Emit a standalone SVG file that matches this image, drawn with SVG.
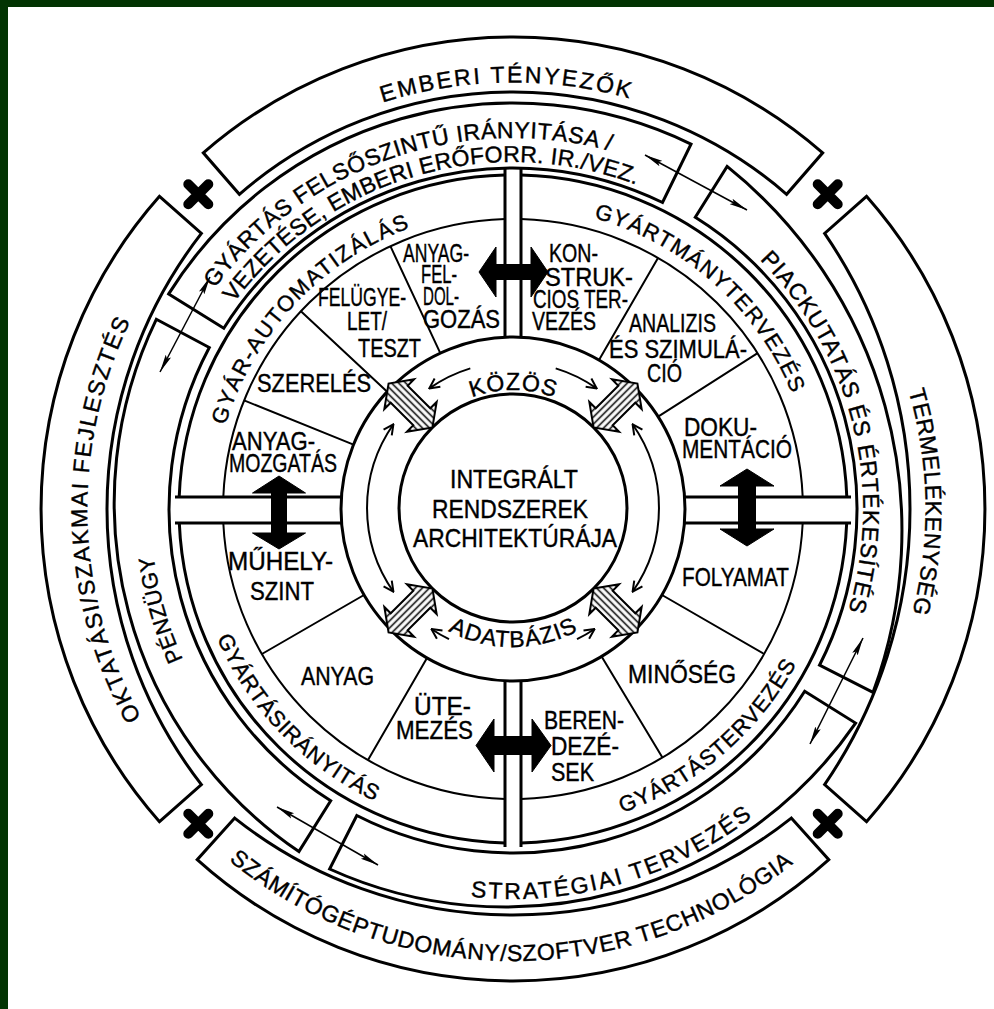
<svg xmlns="http://www.w3.org/2000/svg" width="994" height="1009" viewBox="0 0 994 1009">
<style>
.ln{fill:none;stroke:#000;stroke-width:3}
.th{fill:none;stroke:#000;stroke-width:2}
.cn{fill:none;stroke:#000;stroke-width:1.5}
.t{font-family:"Liberation Sans",Arial,sans-serif;font-size:25px;fill:#000;stroke:#000;stroke-width:0.4}
.ta{font-family:"Liberation Sans",Arial,sans-serif;font-size:22px;fill:#000;stroke:#000;stroke-width:0.4}
.tb{font-family:"Liberation Sans",Arial,sans-serif;font-size:23px;fill:#000;stroke:#000;stroke-width:0.4}
.to{font-family:"Liberation Sans",Arial,sans-serif;font-size:23px;fill:#000;stroke:#000;stroke-width:0.4}
.x{fill:none;stroke:#000;stroke-width:10;stroke-linecap:round}
.blk{fill:#000;stroke:#000;stroke-width:1}
.hat{fill:url(#hatch);stroke:#000;stroke-width:2}
</style>
<defs>
<marker id="ah" markerUnits="userSpaceOnUse" viewBox="0 0 18 8" refX="18" refY="4" markerWidth="18" markerHeight="8" orient="auto-start-reverse"><path d="M0,1 L18,4 L0,7 L3,4 Z" fill="#000"/></marker>
<marker id="rh" markerUnits="userSpaceOnUse" viewBox="0 0 12 12" refX="11" refY="6" markerWidth="12" markerHeight="12" orient="auto-start-reverse"><path d="M1,1 L11,6 L1,11" fill="none" stroke="#000" stroke-width="2"/></marker>
<pattern id="hatch" patternUnits="userSpaceOnUse" width="6" height="5"><rect width="6" height="5" fill="#fff"/><line x1="0" y1="2.5" x2="6" y2="2.5" stroke="#000" stroke-width="1.6"/></pattern>
<path id="p_emb" d="M81.1,516.5 A432,432 0 0 1 944.9,501.5"/>
<path id="p_term" d="M505.7,91.1 A418,418 0 0 1 520.3,926.9"/>
<path id="p_szam" d="M61,506.6 A452,452 0 0 0 965,511.4"/>
<path id="p_okt" d="M525,939.8 A431,431 0 0 1 501,78.2"/>
<path id="p_gy1" d="M162.6,631 A371,371 0 0 1 863.4,387"/>
<path id="p_gy2" d="M180.1,607 A347,347 0 0 1 845.9,411"/>
<path id="p_pia" d="M426.4,166.8 A353,353 0 0 1 599.6,851.2"/>
<path id="p_str" d="M137.7,615.2 A390,390 0 0 0 888.3,402.8"/>
<path id="p_pen" d="M613.9,860.8 A366,366 0 0 1 412.1,157.2"/>
<path id="p_gya" d="M305.7,731.3 A304,304 0 0 1 720.3,286.7"/>
<path id="p_gym" d="M286.8,308.9 A302,302 0 0 1 739.2,709.1"/>
<path id="p_gyt" d="M267.4,718.8 A323,323 0 0 0 758.6,299.2"/>
<path id="p_gyi" d="M288.2,277 A323,323 0 0 0 737.8,741"/>
<path id="p_koz" d="M395,508 A118,118 0 0 1 631,508"/>
<path id="p_ada" d="M374,508 A139,139 0 0 0 652,508"/>
<path id="harrow" d="M-31,0 L-16,-21 L-16,-12 L16,-12 L16,-21 L31,0 L16,21 L16,12 L-16,12 L-16,21 Z"/>
</defs>
<rect width="994" height="1009" fill="#fff"/>
<rect x="0" y="0" width="994" height="7" fill="#023402"/>
<rect x="0" y="0" width="8" height="1009" fill="#023402"/>

<!-- outer ring -->
<g id="emberi">
<path class="ln" d="M203.3,152.8 A472,472 0 0 1 822.7,152.8 L786.6,194.3 A417,417 0 0 0 239.4,194.3 Z"/>
<text class="to"><textPath href="#p_emb" startOffset="50%" text-anchor="middle" textLength="250" lengthAdjust="spacing">EMBERI TÉNYEZŐK</textPath></text>
</g>
<g id="termelekenyseg">
<path class="ln" d="M866.5,196.3 A472,472 0 0 1 866.5,821.7 L824.6,784.6 A487.4,487.4 0 0 0 824.6,233.4 Z"/>
<text class="to"><textPath href="#p_term" startOffset="50%" text-anchor="middle" textLength="225" lengthAdjust="spacing">TERMELÉKENYSÉG</textPath></text>
</g>
<g id="szamitogep">
<path class="ln" d="M828.8,859.7 A472,472 0 0 1 197.2,859.7 L234.7,818.1 A448.1,448.1 0 0 0 791.3,818.1 Z"/>
<text class="to"><textPath href="#p_szam" startOffset="50%" text-anchor="middle" textLength="610" lengthAdjust="spacing">SZÁMÍTÓGÉPTUDOMÁNY/SZOFTVER TECHNOLÓGIA</textPath></text>
</g>
<g id="oktatasi">
<path class="ln" d="M159.5,821.7 A472,472 0 0 1 159.5,196.3 L201.4,233.4 A449.5,449.5 0 0 0 201.4,784.6 Z"/>
<text class="to"><textPath href="#p_okt" startOffset="50%" text-anchor="middle" textLength="412" lengthAdjust="spacing">OKTATÁSI/SZAKMAI FEJLESZTÉS</textPath></text>
</g>

<!-- middle ring -->
<g id="gyartas-felso">
<path class="ln" d="M168.7,293.9 A406,406 0 0 1 691,144.1 L662.5,202.5 A341,341 0 0 0 223.8,328.3 Z"/>
<text class="tb"><textPath href="#p_gy1" startOffset="50%" text-anchor="middle" textLength="445" lengthAdjust="spacing">GYÁRTÁS FELSŐSZINTŰ IRÁNYITÁSA /</textPath></text>
<text class="tb"><textPath href="#p_gy2" startOffset="50%" text-anchor="middle" textLength="450" lengthAdjust="spacing">VEZETÉSE, EMBERI ERŐFORR. IR./VEZ.</textPath></text>
</g>
<g id="piackutatas">
<path class="ln" d="M727.1,166.4 A466.7,466.7 0 0 1 873,692.4 L819.5,665.2 A344,344 0 0 0 695.3,217.3 Z"/>
<text class="tb"><textPath href="#p_pia" startOffset="50%" text-anchor="middle" textLength="380" lengthAdjust="spacing">PIACKUTATÁS ÉS ÉRTÉKESÍTÉS</textPath></text>
</g>
<g id="strategiai">
<path class="ln" d="M855.6,723.1 A425.3,425.3 0 0 1 329.6,869 L356.8,815.5 A344,344 0 0 0 804.7,691.3 Z"/>
<text class="tb"><textPath href="#p_str" startOffset="50%" text-anchor="middle" textLength="300" lengthAdjust="spacing">STRATÉGIAI TERVEZÉS</textPath></text>
</g>
<g id="penzugy">
<path class="ln" d="M298.9,851.6 A421.5,421.5 0 0 1 156.3,319.3 L209.3,347.5 A344,344 0 0 0 330.7,800.7 Z"/>
<text class="ta"><textPath href="#p_pen" startOffset="50%" text-anchor="middle" textLength="108" lengthAdjust="spacing">PÉNZÜGY</textPath></text>
</g>

<!-- crosses -->
<g id="crosses">
<path class="x" d="M188.3,184.3 L208.3,204.3 M208.3,184.3 L188.3,204.3"/>
<path class="x" d="M817.7,184.3 L837.7,204.3 M837.7,184.3 L817.7,204.3"/>
<path class="x" d="M188.3,813.7 L208.3,833.7 M208.3,813.7 L188.3,833.7"/>
<path class="x" d="M817.7,813.7 L837.7,833.7 M837.7,813.7 L817.7,833.7"/>
</g>

<!-- quadrants -->
<g id="q-gyar-automatizalas">
<path class="ln" d="M179.2,497 A334,334 0 0 1 505,175.1"/>
<path class="th" d="M223.3,497 A290,290 0 0 1 505,219.1"/>
<path class="th" d="M390.4,246.2 L440.3,353.1 M300.9,311.2 L387.2,391.7 M244.1,400.4 L353.5,444.6"/>
<text class="ta"><textPath href="#p_gya" startOffset="50%" text-anchor="middle" textLength="280" lengthAdjust="spacing">GYÁR-AUTOMATIZÁLÁS</textPath></text>
<text class="t" x="403" y="262" textLength="66" lengthAdjust="spacingAndGlyphs">ANYAG-</text>
<text class="t" x="421" y="283" textLength="36" lengthAdjust="spacingAndGlyphs">FEL-</text>
<text class="t" x="423" y="305" textLength="36" lengthAdjust="spacingAndGlyphs">DOL-</text>
<text class="t" x="423" y="328" textLength="77" lengthAdjust="spacingAndGlyphs">GOZÁS</text>
<text class="t" x="318" y="306" textLength="88" lengthAdjust="spacingAndGlyphs">FELÜGYE-</text>
<text class="t" x="347" y="330" textLength="40" lengthAdjust="spacingAndGlyphs">LET/</text>
<text class="t" x="358" y="357" textLength="63" lengthAdjust="spacingAndGlyphs">TESZT</text>
<text class="t" x="257" y="392" textLength="114" lengthAdjust="spacingAndGlyphs">SZERELÉS</text>
<text class="t" x="232" y="450" textLength="83" lengthAdjust="spacingAndGlyphs">ANYAG-</text>
<text class="t" x="229" y="472" textLength="108" lengthAdjust="spacingAndGlyphs">MOZGATÁS</text>
</g>
<g id="q-gyartmanytervezes">
<path class="ln" d="M521,175.1 A334,334 0 0 1 846.8,497"/>
<path class="th" d="M521,219.1 A290,290 0 0 1 802.7,497"/>
<path class="th" d="M658,257.9 L599,360 M757.6,353.2 L658.1,416.6"/>
<text class="ta"><textPath href="#p_gym" startOffset="50%" text-anchor="middle" textLength="274" lengthAdjust="spacing">GYÁRTMÁNYTERVEZÉS</textPath></text>
<text class="t" x="549" y="262" textLength="49" lengthAdjust="spacingAndGlyphs">KON-</text>
<text class="t" x="545" y="286" textLength="88" lengthAdjust="spacingAndGlyphs">STRUK-</text>
<text class="t" x="533" y="308" textLength="95" lengthAdjust="spacingAndGlyphs">CIOS TER-</text>
<text class="t" x="532" y="330" textLength="64" lengthAdjust="spacingAndGlyphs">VEZÉS</text>
<text class="t" x="629" y="332" textLength="87" lengthAdjust="spacingAndGlyphs">ANALIZIS</text>
<text class="t" x="609" y="358" textLength="138" lengthAdjust="spacingAndGlyphs">ÉS SZIMULÁ-</text>
<text class="t" x="647" y="382" textLength="35" lengthAdjust="spacingAndGlyphs">CIÓ</text>
<text class="t" x="684" y="436" textLength="73" lengthAdjust="spacingAndGlyphs">DOKU-</text>
<text class="t" x="682" y="458" textLength="110" lengthAdjust="spacingAndGlyphs">MENTÁCIÓ</text>
</g>
<g id="q-gyartastervezes">
<path class="ln" d="M846.7,523 A334,334 0 0 1 521,842.9"/>
<path class="th" d="M802.7,523 A290,290 0 0 1 521,798.9"/>
<path class="th" d="M662,595 L764.1,654 M601.6,656.4 L662.4,757.6"/>
<text class="ta"><textPath href="#p_gyt" startOffset="50%" text-anchor="middle" textLength="234" lengthAdjust="spacing">GYÁRTÁSTERVEZÉS</textPath></text>
<text class="t" x="682" y="586" textLength="107" lengthAdjust="spacingAndGlyphs">FOLYAMAT</text>
<text class="t" x="628" y="683" textLength="108" lengthAdjust="spacingAndGlyphs">MINŐSÉG</text>
<text class="t" x="544" y="729" textLength="80" lengthAdjust="spacingAndGlyphs">BEREN-</text>
<text class="t" x="551" y="755" textLength="68" lengthAdjust="spacingAndGlyphs">DEZÉ-</text>
<text class="t" x="551" y="781" textLength="43" lengthAdjust="spacingAndGlyphs">SEK</text>
</g>
<g id="q-gyartasiranyitas">
<path class="ln" d="M505,842.9 A334,334 0 0 1 179.3,523"/>
<path class="th" d="M505,798.9 A290,290 0 0 1 223.3,523"/>
<path class="th" d="M427,658 L368,760.1 M364,595 L261.9,654"/>
<text class="ta"><textPath href="#p_gyi" startOffset="50%" text-anchor="middle" textLength="232" lengthAdjust="spacing">GYÁRTÁSIRÁNYITÁS</textPath></text>
<text class="t" x="228" y="570" textLength="105" lengthAdjust="spacingAndGlyphs">MŰHELY-</text>
<text class="t" x="250" y="600" textLength="64" lengthAdjust="spacingAndGlyphs">SZINT</text>
<text class="t" x="301" y="685" textLength="73" lengthAdjust="spacingAndGlyphs">ANYAG</text>
<text class="t" x="414" y="715" textLength="57" lengthAdjust="spacingAndGlyphs">ÜTE-</text>
<text class="t" x="396" y="739" textLength="77" lengthAdjust="spacingAndGlyphs">MEZÉS</text>
</g>

<!-- ring + center -->
<g id="ring">
<circle class="ln" cx="513" cy="509" r="172"/>
<text class="tb"><textPath href="#p_koz" startOffset="50%" text-anchor="middle" textLength="84" lengthAdjust="spacing">KÖZÖS</textPath></text>
<text class="tb"><textPath href="#p_ada" startOffset="50%" text-anchor="middle" textLength="135" lengthAdjust="spacing">ADATBÁZIS</textPath></text>
</g>
<g id="center">
<circle class="ln" cx="513" cy="508" r="114"/>
<text class="t" x="450" y="488" textLength="128" lengthAdjust="spacingAndGlyphs">INTEGRÁLT</text>
<text class="t" x="432" y="518" textLength="156" lengthAdjust="spacingAndGlyphs">RENDSZEREK</text>
<text class="t" x="413" y="547" textLength="204" lengthAdjust="spacingAndGlyphs">ARCHITEKTÚRÁJA</text>
</g>

<!-- connectors -->
<g id="connectors">
<path class="ln" d="M505,168.1 L505,337.2 M521,168.1 L521,337.2 M505,680.8 L505,847 M521,680.8 L521,847 M175,497 L341.4,497 M175,523 L341.6,523 M684.6,497 L851,497 M684.4,523 L851,523"/>
<path class="blk" d="M479,272 L496,247 L496,264.5 L531,264.5 L531,247 L548,272 L531,297 L531,279.5 L496,279.5 L496,297 Z"/>
<path class="blk" d="M476,745.5 L494,719 L494,736.5 L532,736.5 L532,719 L551,745.5 L532,772 L532,754.5 L494,754.5 L494,772 Z"/>
<path class="blk" d="M279,476 L252.5,493 L271.5,493 L271.5,533 L252.5,533 L279,549 L305.5,533 L286.5,533 L286.5,493 L305.5,493 Z"/>
<path class="blk" d="M747,469 L720,486 L738.5,486 L738.5,529 L720,529 L747,546 L774,529 L755.5,529 L755.5,486 L774,486 Z"/>
<path class="cn" d="M645,155 L747,210" marker-start="url(#ah)" marker-end="url(#ah)"/>
<path class="cn" d="M863,638 L810,744" marker-start="url(#ah)" marker-end="url(#ah)"/>
<path class="cn" d="M378,865 L277,807" marker-start="url(#ah)" marker-end="url(#ah)"/>
<path class="cn" d="M160,372 L210,277" marker-start="url(#ah)" marker-end="url(#ah)"/>
<path class="th" d="M393.4,591.7 A146,146 0 0 1 393.4,424.3" marker-start="url(#rh)" marker-end="url(#rh)"/>
<path class="th" d="M632.6,424.3 A146,146 0 0 1 632.6,591.7" marker-start="url(#rh)" marker-end="url(#rh)"/>
<path class="th" d="M470.3,368.4 A146,146 0 0 0 429.3,388.4" marker-end="url(#rh)"/>
<path class="th" d="M555.7,368.4 A146,146 0 0 1 596.7,388.4" marker-end="url(#rh)"/>
<path class="th" d="M577,639.2 A146,146 0 0 0 594.6,629" marker-end="url(#rh)"/>
<path class="th" d="M449,639.2 A146,146 0 0 1 431.4,629" marker-end="url(#rh)"/>
<use href="#harrow" class="hat" transform="translate(410.5,405.5) rotate(-135)"/>
<use href="#harrow" class="hat" transform="translate(615.5,405.5) rotate(-45)"/>
<use href="#harrow" class="hat" transform="translate(615.5,610.5) rotate(45)"/>
<use href="#harrow" class="hat" transform="translate(410.5,610.5) rotate(135)"/>
</g>
</svg>
